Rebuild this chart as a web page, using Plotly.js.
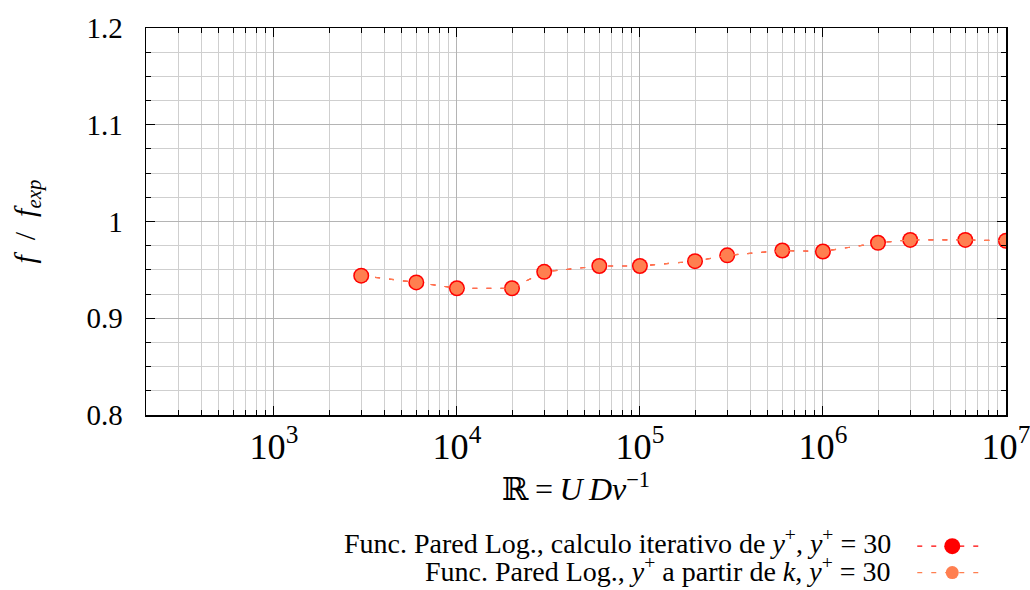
<!DOCTYPE html>
<html>
<head>
<meta charset="utf-8">
<script src="https://cdn.plot.ly/plotly-3.0.1.min.js"></script>
<style>
  html, body { margin: 0; padding: 0; background: #fff; }
  #chart { width: 1030px; height: 590px; }
</style>
</head>
<body>
<div id="chart"></div>
<script>
// Reynolds number of each case
const reynolds = [3e3, 6e3, 1e4, 2e4, 3e4, 6e4, 1e5, 2e5, 3e5, 6e5, 1e6, 2e6, 3e6, 6e6, 1e7];
// f / f_exp, iterative y+ computation
const ratioIterative = [0.944, 0.937, 0.931, 0.931, 0.948, 0.954, 0.954, 0.959, 0.965, 0.970, 0.969, 0.978, 0.981, 0.981, 0.980];
// f / f_exp, y+ obtained from k
const ratioFromK = [0.944, 0.937, 0.931, 0.931, 0.948, 0.954, 0.954, 0.959, 0.965, 0.970, 0.969, 0.978, 0.981, 0.981, 0.980];
// legend labels
const seriesLabels = [
  'Func. Pared Log., calculo iterativo de <i>y</i><sup>+</sup>, <i>y</i><sup>+</sup> = 30',
  'Func. Pared Log., <i>y</i><sup>+</sup> a partir de <i>k</i>, <i>y</i><sup>+</sup> = 30'
];

const FONT = '"Liberation Serif", "DejaVu Serif", serif';
const RED = '#ff0000';
const CORAL = '#ff7f50';

const traces = [
  {
    x: reynolds, y: ratioIterative, type: 'scatter', mode: 'lines+markers',
    name: ' ',
    line: { color: RED, width: 1.2, dash: '5px,9px' },
    marker: { color: RED, size: 16 }
  },
  {
    x: reynolds, y: ratioFromK, type: 'scatter', mode: 'lines+markers',
    name: ' ',
    line: { color: CORAL, width: 1.2, dash: '5px,9px' },
    marker: { color: CORAL, size: 13 }
  }
];

const layout = {
  width: 1030, height: 590,
  margin: { l: 146, r: 24, t: 28, b: 175, autoexpand: false },
  paper_bgcolor: '#fff', plot_bgcolor: '#fff',
  font: { family: FONT, color: '#000', size: 26 },
  showlegend: true,
  legend: {
    x: 0.891, y: -0.292, xanchor: 'left', yanchor: 'top',
    bgcolor: 'rgba(0,0,0,0)', borderwidth: 0,
    itemwidth: 70, tracegroupgap: 0,
    font: { family: FONT, size: 18 }
  },
  xaxis: {
    type: 'log', range: [Math.log10(200), 7.0005],
    dtick: 1, exponentformat: 'power',
    showline: true, linecolor: '#000', linewidth: 1.5, mirror: 'ticks',
    ticks: 'inside', ticklen: 9, tickcolor: '#000', tickwidth: 1,
    showgrid: true, gridcolor: '#b4b4b4', gridwidth: 1,
    zeroline: false,
    tickfont: { family: FONT, size: 29 },
    ticklabelstandoff: 0,
    ticklabeloverflow: 'allow',
    minor: { dtick: 'D1', ticks: 'inside', ticklen: 5, tickcolor: '#000', showgrid: true, gridcolor: '#cfcfcf', gridwidth: 1 },
    title: { text: 'ℝ\u2009=\u2009<i>U</i>\u2009<i>Dν</i><sup>−1</sup>', font: { family: FONT, size: 32 }, standoff: 11 }
  },
  yaxis: {
    range: [0.8, 1.2], dtick: 0.1, tick0: 0.8,
    showline: true, linecolor: '#000', linewidth: 1.5, mirror: 'ticks',
    ticks: 'inside', ticklen: 9, tickcolor: '#000', tickwidth: 1,
    showgrid: true, gridcolor: '#b4b4b4', gridwidth: 1,
    zeroline: false,
    tickfont: { family: FONT, size: 29 },
    ticklabelstandoff: 16,
    minor: { dtick: 0.025, ticks: 'inside', ticklen: 5, tickcolor: '#000', showgrid: true, gridcolor: '#cfcfcf', gridwidth: 1 },
    title: { text: '<i>f</i>\u2002/\u2002<i>f</i><sub><i>exp</i></sub>', font: { family: FONT, size: 30 }, standoff: 42 }
  },
  annotations: [
    { text: seriesLabels[0], xref: 'paper', yref: 'paper', x: 0.8686, y: -0.328,
      xanchor: 'right', yanchor: 'middle', showarrow: false, font: { family: FONT, size: 28 } },
    { text: seriesLabels[1], xref: 'paper', yref: 'paper', x: 0.8686, y: -0.400,
      xanchor: 'right', yanchor: 'middle', showarrow: false, font: { family: FONT, size: 28 } }
  ]
};

Plotly.newPlot('chart', traces, layout, { displayModeBar: false, staticPlot: true });
</script>
</body>
</html>
